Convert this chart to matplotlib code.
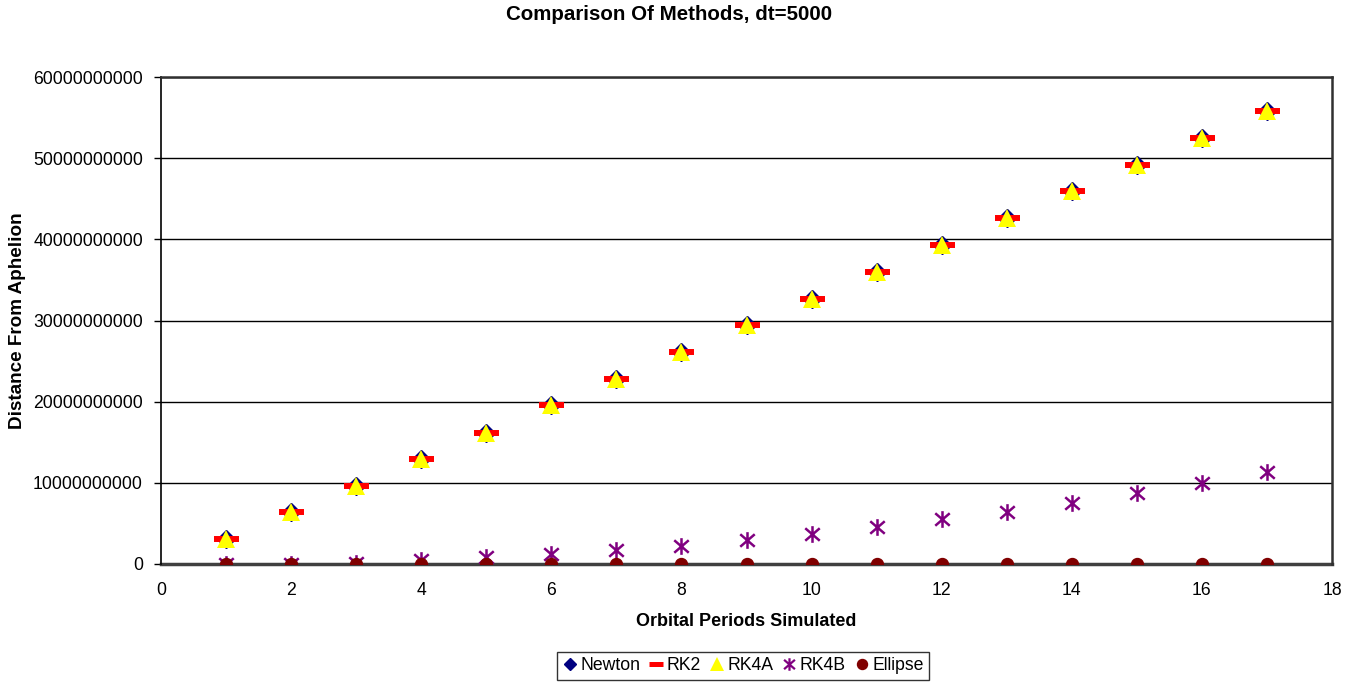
import matplotlib
matplotlib.use("Agg")
import matplotlib.pyplot as plt
import matplotlib.ticker as ticker
from matplotlib.path import Path
from matplotlib.lines import Line2D

plt.rcParams['font.family'] = ['Liberation Sans', 'DejaVu Sans']

periods = [1, 2, 3, 4, 5, 6, 7, 8, 9, 10, 11, 12, 13, 14, 15, 16, 17]
newton = [3.04e9, 6.37e9, 9.65e9, 12.9e9, 16.2e9, 19.6e9, 22.8e9, 26.1e9, 29.4e9,
          32.7e9, 36.0e9, 39.3e9, 42.6e9, 45.9e9, 49.2e9, 52.5e9, 55.8e9]
rk2 = [3.04e9, 6.37e9, 9.65e9, 12.9e9, 16.2e9, 19.6e9, 22.8e9, 26.1e9, 29.4e9,
       32.7e9, 36.0e9, 39.3e9, 42.6e9, 45.9e9, 49.2e9, 52.5e9, 55.8e9]
rk4a = [3.04e9, 6.37e9, 9.65e9, 12.9e9, 16.2e9, 19.6e9, 22.8e9, 26.1e9, 29.4e9,
        32.7e9, 36.0e9, 39.3e9, 42.6e9, 45.9e9, 49.2e9, 52.5e9, 55.8e9]
rk4b = [0.0, 0.02e9, 0.16e9, 0.49e9, 0.9e9, 1.2e9, 1.72e9, 2.26e9, 2.96e9,
        3.70e9, 4.52e9, 5.5e9, 6.45e9, 7.56e9, 8.71e9, 9.94e9, 11.3e9]
ellipse = [0.0] * 17
series_names = ['Newton', 'RK2', 'RK4A', 'RK4B', 'Ellipse']

xticks = [0, 2, 4, 6, 8, 10, 12, 14, 16, 18]
yticks = [0, 1e10, 2e10, 3e10, 4e10, 5e10, 6e10]

star = Path([(0, -1), (0, 1), (-0.87, -0.75), (0.87, 0.75), (-0.87, 0.75), (0.87, -0.75)],
            [Path.MOVETO, Path.LINETO, Path.MOVETO, Path.LINETO, Path.MOVETO, Path.LINETO])

fig = plt.figure(figsize=(13.54, 6.83), dpi=100)
ax = fig.add_axes([161/1354, 1 - 564/683, (1332-161)/1354, (564-77)/683])

ax.plot(periods, newton, linestyle='none', marker='D', markersize=9.6,
        color='#000080', zorder=3)
ax.plot(periods, rk2, linestyle='none', marker='_', markersize=18, markeredgewidth=4.3,
        color='#ff0000', zorder=4)
ax.plot(periods, rk4a, linestyle='none', marker='^', markersize=13.5,
        color='#ffff00', markeredgewidth=0, zorder=5)
ax.plot(periods, rk4b, linestyle='none', marker=star, markersize=12, markeredgewidth=1.8,
        color='#800080', fillstyle='none', zorder=6)
ax.plot(periods, ellipse, linestyle='none', marker='o', markersize=8.6,
        color='#800000', zorder=7)

ax.set_xlim(0, 18)
ax.set_ylim(0, 6e10)
ax.set_xticks(xticks)
ax.set_yticks(yticks)
ax.yaxis.set_major_formatter(ticker.FuncFormatter(lambda v, p: f"{v:.0f}"))
ax.tick_params(axis='x', length=0, pad=13, labelsize=12.7)
ax.tick_params(axis='y', length=5, width=1, direction='out', pad=8, labelsize=12.7)

ax.grid(axis='y', color='black', linewidth=1.0, zorder=1)
ax.set_axisbelow(True)

ax.spines['left'].set_color('black')
ax.spines['left'].set_linewidth(1.2)
ax.spines['bottom'].set_color('#404040')
ax.spines['bottom'].set_linewidth(2.5)
ax.spines['top'].set_color('#303030')
ax.spines['top'].set_linewidth(1.8)
ax.spines['right'].set_color('#303030')
ax.spines['right'].set_linewidth(1.8)
ax.spines['bottom'].set_zorder(2)

fig.text(669/1354, 1 - 15/683, 'Comparison Of Methods, dt=5000', ha='center', va='center',
         fontsize=14.8, fontweight='bold')
ax.set_xlabel('Orbital Periods Simulated', fontsize=13, fontweight='bold', labelpad=10)
fig.text(18/1354, 1 - 321/683, 'Distance From Aphelion', rotation=90, ha='center', va='center',
         fontsize=13.6, fontweight='bold')

handles = [
    Line2D([], [], linestyle='none', marker='D', markersize=6.6, color='#000080'),
    Line2D([], [], linestyle='none', marker='_', markersize=9.4, markeredgewidth=3.6, color='#ff0000'),
    Line2D([], [], linestyle='none', marker='^', markersize=10, markeredgewidth=0, color='#ffff00'),
    Line2D([], [], linestyle='none', marker=star, markersize=9, markeredgewidth=1.6,
           color='#800080', fillstyle='none'),
    Line2D([], [], linestyle='none', marker='o', markersize=7.2, color='#800000'),
]
leg = fig.legend(handles, series_names, loc='center', bbox_to_anchor=(743/1354, 1 - 666/683),
                 ncol=5, fontsize=12.7, frameon=True, fancybox=False, edgecolor='black',
                 handlelength=0.8, handletextpad=0.2, columnspacing=0.5,
                 borderpad=0.3, borderaxespad=0)
leg.get_frame().set_linewidth(1.0)

fig.savefig('out.png', dpi=100)
